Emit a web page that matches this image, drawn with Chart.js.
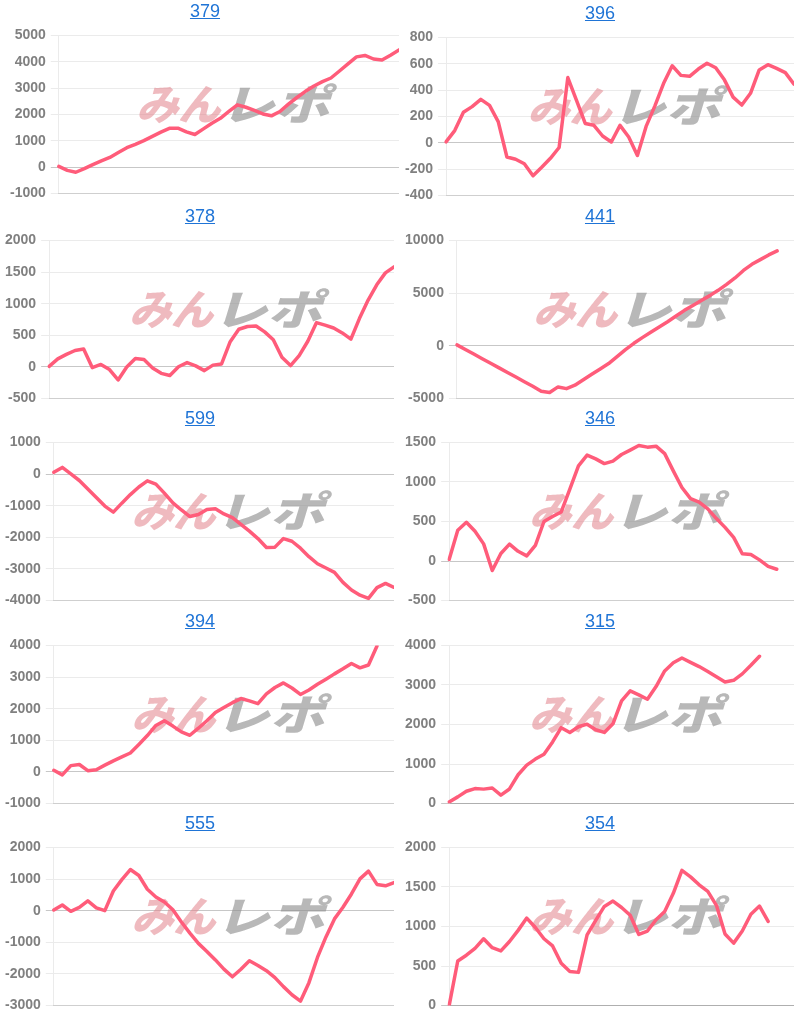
<!DOCTYPE html>
<html lang="ja">
<head>
<meta charset="utf-8">
<title>差枚グラフ</title>
<script src="https://cdn.jsdelivr.net/npm/chart.js@4.4.1/dist/chart.umd.min.js"></script>
<style>
  body { margin: 0; background: #fff; font-family: Arial, "Liberation Sans", sans-serif; }
  #graficos { display: grid; grid-template-columns: 400px 400px; grid-auto-rows: 202.5px; width: 800px; }
  .painel { position: relative; }
  .painel a { position: relative; z-index: 2; display: block; height: 27px; line-height: 27px; text-align: center; font-size: 18px; color: #1f74d6; text-decoration: underline; }
  .painel .area { position: absolute; left: 0; top: 24px; width: 394px; height: 185px; }
  .painel.primeiro { left: 5px; top: -2px; }
</style>
</head>
<body>
<div id="graficos"></div>
<script>
// 台番号
const titles = ['379', '396', '378', '441', '599', '346', '394', '315', '555', '354'];

// 差枚の推移
const s379 = [30, -120, -190, -55, 100, 240, 370, 555, 740, 870, 1010, 1170, 1330, 1475, 1480, 1340, 1240, 1455, 1670, 1855, 2115, 2365, 2275, 2155, 2020, 1950, 2115, 2395, 2645, 2880, 3080, 3245, 3385, 3650, 3920, 4185, 4240, 4105, 4070, 4250, 4450];
const s396 = [8, 93, 232, 275, 330, 284, 161, -107, -124, -158, -250, -185, -117, -35, 495, 322, 147, 133, 52, 7, 133, 45, -95, 125, 279, 450, 585, 512, 505, 560, 604, 570, 478, 347, 287, 376, 553, 593, 565, 533, 445];
const s378 = [10, 128, 199, 260, 285, -10, 40, -42, -205, 0, 135, 117, -15, -101, -135, 4, 69, 17, -58, 29, 47, 400, 596, 640, 647, 555, 431, 154, 22, 180, 406, 700, 660, 616, 538, 439, 768, 1057, 1298, 1487, 1582];
const s441 = [95, -342, -777, -1214, -1650, -2086, -2522, -2959, -3394, -3831, -4300, -4420, -3892, -4056, -3733, -3210, -2691, -2185, -1680, -1022, -353, 244, 781, 1286, 1782, 2290, 2827, 3367, 3833, 4295, 4763, 5268, 5833, 6440, 7150, 7731, 8176, 8622, 9000];
const s599 = [53, 210, 5, -204, -473, -742, -1013, -1205, -920, -650, -409, -215, -320, -602, -910, -1136, -1344, -1281, -1118, -1099, -1260, -1380, -1590, -1806, -2040, -2320, -2310, -2040, -2124, -2342, -2611, -2836, -2970, -3106, -3423, -3664, -3828, -3930, -3588, -3457, -3580];
const s346 = [21, 390, 490, 376, 217, -120, 95, 214, 123, 65, 199, 500, 563, 621, 908, 1204, 1340, 1292, 1232, 1264, 1347, 1402, 1460, 1440, 1452, 1358, 1140, 930, 790, 745, 660, 537, 426, 299, 93, 83, 15, -67, -104];
const s394 = [53, -92, 200, 235, 40, 70, 215, 352, 475, 600, 870, 1150, 1470, 1620, 1450, 1268, 1160, 1383, 1620, 1880, 2040, 2190, 2320, 2245, 2160, 2470, 2670, 2815, 2654, 2450, 2590, 2770, 2930, 3100, 3260, 3430, 3290, 3380, 3980];
const s315 = [42, 170, 312, 380, 366, 395, 215, 370, 730, 974, 1125, 1250, 1560, 1920, 1799, 1942, 2008, 1868, 1800, 2018, 2596, 2850, 2750, 2640, 2960, 3355, 3560, 3680, 3572, 3464, 3340, 3208, 3076, 3117, 3280, 3497, 3725];
const s555 = [21, 180, -20, 105, 310, 90, 0, 624, 983, 1300, 1112, 677, 433, 277, 30, -359, -708, -1034, -1288, -1556, -1848, -2090, -1850, -1580, -1730, -1897, -2115, -2400, -2657, -2860, -2275, -1478, -830, -260, 108, 529, 1004, 1250, 830, 786, 888];
const s354 = [0, 564, 637, 724, 845, 732, 692, 810, 951, 1106, 987, 845, 754, 535, 430, 420, 894, 1078, 1254, 1322, 1240, 1142, 900, 943, 1086, 1190, 1420, 1710, 1627, 1527, 1444, 1268, 906, 790, 943, 1155, 1258, 1064];
const series = [s379, s396, s378, s441, s599, s346, s394, s315, s555, s354];

// 目盛り
const yMin = [-1000, -400, -500, -5000, -4000, -500, -1000, 0, -3000, 0];
const yMax = [5000, 800, 2000, 10000, 1000, 1500, 4000, 4000, 2000, 2000];
const yStep = [1000, 200, 500, 5000, 1000, 500, 1000, 1000, 1000, 500];

// 横軸（表示なし）
const xLabels = Array.from({ length: 41 }, (_, i) => String(i + 1));

// 透かしロゴ
const logoPlugin = {
  id: 'logo',
  beforeDatasetsDraw(chart) {
    const { ctx, chartArea } = chart;
    const cx = (chartArea.left + chartArea.right) / 2 + 4;
    const cy = chartArea.top + 69;
    ctx.save();
    ctx.translate(cx, cy);
    ctx.transform(1, 0, -0.3, 1, 0, 0);
    ctx.font = '900 42px "Noto Sans CJK JP"';
    ctx.textBaseline = 'middle';
    ctx.textAlign = 'right';
    ctx.fillStyle = 'rgba(225, 130, 138, 0.55)';
    ctx.fillText('みん', -8, 0);
    ctx.scale(1.3, 1);
    ctx.textAlign = 'left';
    ctx.fillStyle = 'rgba(140, 140, 140, 0.62)';
    ctx.fillText('レポ', -6, 0);
    ctx.restore();
  }
};

function criarGrafico(i) {
  const painel = document.createElement('div');
  painel.className = i === 0 ? 'painel primeiro' : 'painel';
  painel.innerHTML = `<a href="#">${titles[i]}</a><div class="area"><canvas></canvas></div>`;
  document.getElementById('graficos').appendChild(painel);

  const ctx = painel.querySelector('canvas').getContext('2d');
  new Chart(ctx, {
    type: 'line',
    data: {
      labels: xLabels,
      datasets: [{
        data: series[i],
        borderColor: 'rgb(255, 92, 122)',
        borderWidth: 3.5,
        borderJoinStyle: 'round',
        borderCapStyle: 'round',
        pointRadius: 0,
        tension: 0,
        fill: false
      }]
    },
    options: {
      responsive: true,
      maintainAspectRatio: false,
      animation: false,
      plugins: { legend: { display: false }, tooltip: { enabled: false } },
      scales: {
        x: {
          ticks: { display: false },
          grid: { display: false },
          border: { color: 'rgba(0, 0, 0, 0.12)' }
        },
        y: {
          min: yMin[i],
          max: yMax[i],
          ticks: {
            stepSize: yStep[i],
            color: '#808080',
            padding: 5,
            font: { family: 'Arial', size: 14, weight: 'bold' },
            callback: v => String(v)
          },
          grid: {
            color: c => (c.tick && c.tick.value === 0 ? 'rgba(0, 0, 0, 0.22)' : 'rgba(0, 0, 0, 0.08)'),
            tickLength: 8
          },
          border: { color: 'rgba(0, 0, 0, 0.08)' }
        }
      }
    },
    plugins: [logoPlugin]
  });
}

titles.forEach((_, i) => criarGrafico(i));
</script>
</body>
</html>
